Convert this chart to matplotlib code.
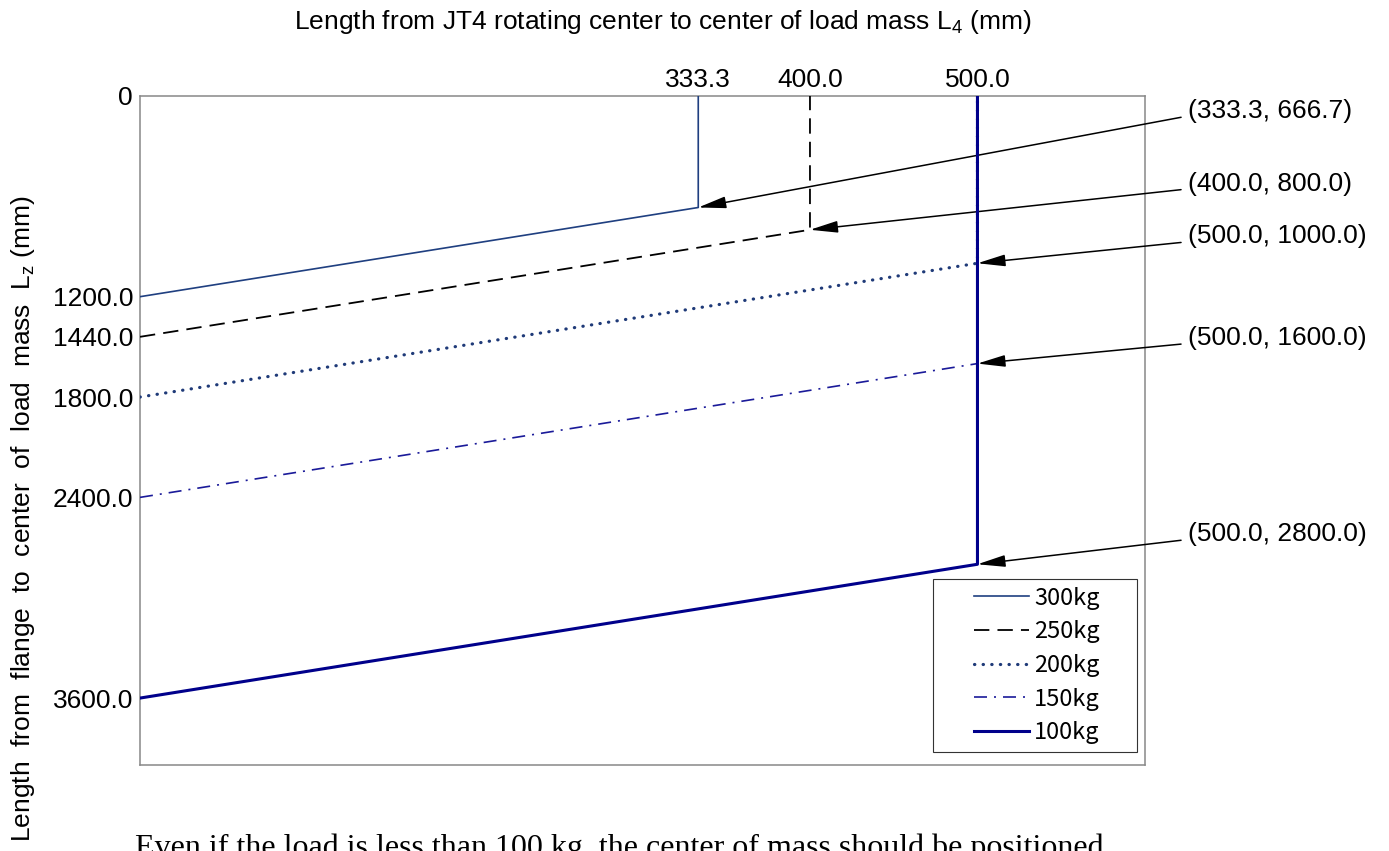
import matplotlib
matplotlib.use("Agg")
import matplotlib.pyplot as plt
from matplotlib.patches import Rectangle

plt.rcParams['font.family'] = ['Liberation Sans', 'DejaVu Sans']
plt.rcParams['mathtext.fontset'] = 'custom'
plt.rcParams['mathtext.rm'] = 'Liberation Sans'

# allowable load-centre limits for each payload
loads = ['300kg', '250kg', '200kg', '150kg', '100kg']
l4_max = [333.3, 400.0, 500.0, 500.0, 500.0]        # L4 at the corner (mm)
lz_at_zero = [1200.0, 1440.0, 1800.0, 2400.0, 3600.0]  # Lz where L4 = 0
lz_corner = [666.7, 800.0, 1000.0, 1600.0, 2800.0]    # Lz at the corner

# line styles per payload
colors = ['#1f3f80', '#000000', '#1f3a78', '#1a1a99', '#00008b']
styles = ['-', (0, (8.5, 4.5)), (0, (0.1, 2.6)), (0, (7.8, 4.2, 1.2, 4.2)), '-']
widths = [1.2, 1.3, 2.3, 1.2, 2.2]

y_ticks = [0, 1200.0, 1440.0, 1800.0, 2400.0, 3600.0]
y_labels = ['0', '1200.0', '1440.0', '1800.0', '2400.0', '3600.0']
x_ticks = [333.3, 400.0, 500.0]
x_labels = ['333.3', '400.0', '500.0']

fig = plt.figure(figsize=(13.89, 8.51), dpi=100)
ax = fig.add_axes([0.1008, 0.1011, 0.7235, 0.7861])

for i in range(len(loads)):
    xs = [0, l4_max[i], l4_max[i]]
    ys = [lz_at_zero[i], lz_corner[i], 0]
    ax.plot(xs, ys, color=colors[i], linestyle=styles[i], linewidth=widths[i],
            label=loads[i], zorder=3 + (1 if i == 4 else 0),
            dash_capstyle='round' if i == 2 else 'butt')

ax.set_xlim(0, 600)
ax.set_ylim(4000, 0)

ax.set_yticks(y_ticks)
ax.set_yticklabels(y_labels, fontsize=19)
ax.tick_params(axis='y', length=0, pad=5)
ax.xaxis.tick_top()
ax.set_xticks(x_ticks)
ax.set_xticklabels(x_labels, fontsize=19)
ax.tick_params(axis='x', length=0, pad=3)

for sp in ax.spines.values():
    sp.set_color('#888888')
    sp.set_linewidth(1.1)

# annotations for corner points
ann_y = [0.978, 0.869, 0.790, 0.638, 0.345]
for i in range(len(loads)):
    ax.annotate('(%.1f, %.1f)' % (l4_max[i], lz_corner[i]),
                xy=(l4_max[i], lz_corner[i]), xycoords='data',
                xytext=(1.0428, ann_y[i]), textcoords='axes fraction',
                ha='left', va='center', fontsize=19, annotation_clip=False,
                arrowprops=dict(arrowstyle='-|>,head_length=1.7,head_width=0.36',
                                mutation_scale=10, color='black', lw=1.1,
                                shrinkA=3, shrinkB=0, relpos=(0, 0.28)))

# legend with a separate frame
ax.add_patch(Rectangle((0.789, 0.0194), 0.203, 0.259, transform=ax.transAxes,
                       facecolor='white', edgecolor='#333333', linewidth=0.8, zorder=5))
leg = ax.legend(loc='center', bbox_to_anchor=(0.8925, 0.1487), frameon=False,
                prop={'family': 'Noto Sans CJK JP', 'size': 17},
                handlelength=2.33, handletextpad=0.21, labelspacing=0.45)
leg.set_zorder(6)

fig.text(0.4773, 0.974, r'Length from JT4 rotating center to center of load mass L$_\mathregular{4}$ (mm)',
         ha='center', va='center', fontsize=19)
fig.text(0.0165, 0.771, r'Length  from  flange  to  center  of  load  mass  L$_\mathregular{z}$ (mm)',
         ha='center', va='top', rotation=90, fontsize=19)
fig.text(0.097, -0.006, 'Even if the load is less than 100 kg, the center of mass should be positioned',
         ha='left', va='baseline', fontsize=23, family='Liberation Serif')

fig.savefig('out.png', dpi=100)
